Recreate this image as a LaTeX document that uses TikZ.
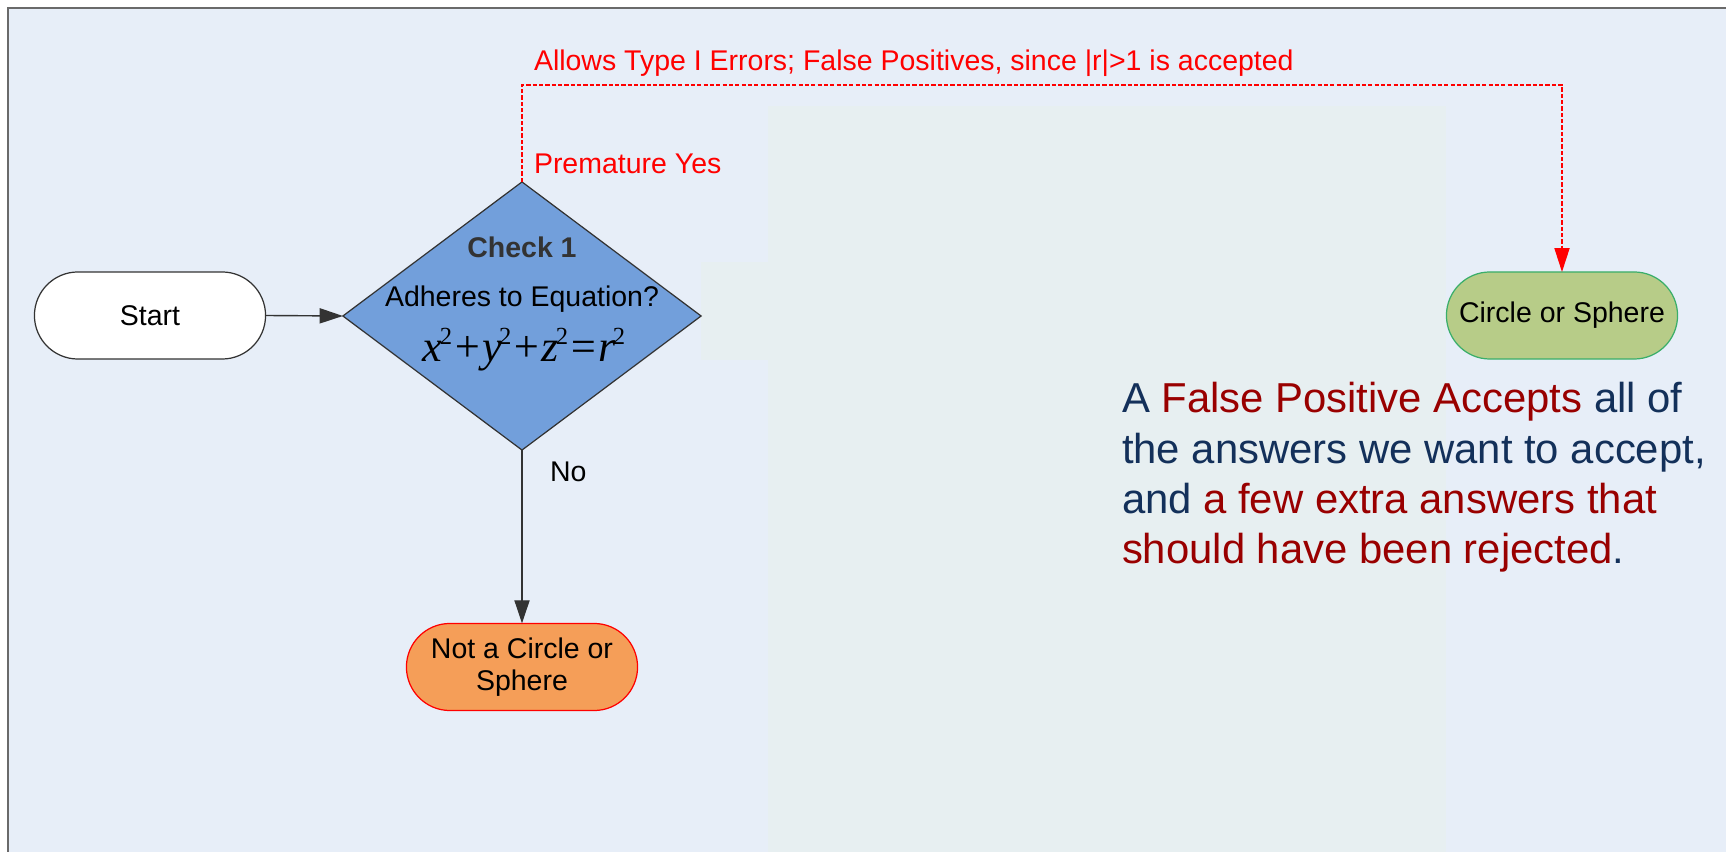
\documentclass[tikz,border=0pt]{standalone}
\usepackage{fontspec}
\setmainfont{Liberation Sans}
\newfontfamily\eqfont{Liberation Serif}
\usetikzlibrary{shapes.geometric,arrows.meta}

\definecolor{pagebg}{HTML}{E7EEF8}
\definecolor{panelbg}{HTML}{E7EFF1}
\definecolor{frameline}{HTML}{6A6A6A}
\definecolor{linegray}{HTML}{333333}
\definecolor{decblue}{HTML}{729FDB}
\definecolor{okgreen}{HTML}{B7CC88}
\definecolor{okedge}{HTML}{3AAE6A}
\definecolor{nofill}{HTML}{F59E58}
\definecolor{navytext}{HTML}{13305A}
\definecolor{redtext}{HTML}{990000}
\definecolor{checkgray}{HTML}{333333}

% raised upright exponent 2 for the sphere equation
\newcommand\eqtwo{\kern-0.06em\raisebox{4.75pt}{\fontsize{7pt}{7pt}\selectfont\upshape 2}}

\begin{document}
\begin{tikzpicture}[x=0.01cm,y=-0.01cm,
  every node/.style={inner sep=0pt,outer sep=0pt},
  labelfont/.style={font=\fontsize{8.1pt}{9.3pt}\selectfont},
  parafont/.style={font=\fontsize{11.9pt}{14pt}\selectfont,text=navytext,anchor=base west},
  terminal/.style={labelfont,draw=linegray,line width=0.35pt,rounded corners=0.435cm,
    minimum width=2.31cm,minimum height=0.87cm,align=center},
  decision/.style={diamond,draw=linegray,line width=0.35pt,fill=decblue,
    minimum width=3.58cm,minimum height=2.68cm},
  flow/.style={draw=linegray,line width=0.4pt,-{Triangle[length=6.6pt,width=4.3pt]}},
  falsepath/.style={draw=red,line width=0.4pt,dash pattern=on 1.2pt off 0.6pt,
    -{Triangle[length=6.8pt,width=4.3pt,fill=red]}},
]
\useasboundingbox (0,0) rectangle (1726,852);

% page and frame
\fill[white] (0,0) rectangle (1726,852);
\fill[pagebg] (8,8) rectangle (1726,852);
\fill[panelbg] (768,106) rectangle (1446,852);
\fill[panelbg] (701,262) rectangle (768,360);
\draw[frameline,line width=0.5pt] (8,852) -- (8,8) -- (1726,8);

% flowchart shapes
\node[terminal,fill=white] (start) at (150,315.5) {Start};
\node[decision] (chk) at (522,316) {};
\node[terminal,fill=nofill,draw=red] (notc) at (522,667) {Not a Circle or\\Sphere};
\node[terminal,fill=okgreen,draw=okedge] (yes) at (1562,315.5) {Circle or Sphere};

% text inside the decision
\node[labelfont,font=\fontsize{8.1pt}{9.3pt}\selectfont\bfseries,text=checkgray,anchor=base] (chktitle) at (522,257.3) {Check 1};
\node[labelfont,anchor=base] (chkq) at (522,306.7) {Adheres to Equation?};
\node[anchor=base,font=\eqfont\fontsize{12.6pt}{12.6pt}\selectfont\itshape] (eqn) at (524,361.7)
  {x\eqtwo+y\eqtwo+z\eqtwo=r\eqtwo};

% connectors
\coordinate (bendL) at (522,85);
\coordinate (bendR) at (1562,85);
\draw[flow] (start.east) -- (chk.west);
\draw[flow] (chk.south) -- (notc.north);
\draw[falsepath] (chk.north) -- (bendL) -- (bendR) -- (yes.north);

% connector labels
\node[labelfont,text=red,anchor=base west] (errlabel) at (534,70.7)
  {Allows Type I Errors; False Positives, since |r|>1 is accepted};
\node[labelfont,text=red,anchor=base west] (prelabel) at (534,173.5) {Premature Yes};
\node[labelfont,anchor=base west] (nolabel) at (550,482) {No};

% explanation
\node[parafont] (para1) at (1122,412.7) {A \textcolor{redtext}{False Positive Accepts} all of};
\node[parafont] (para2) at (1122,463.1) {the answers we want to accept,};
\node[parafont] (para3) at (1122,513.5) {and \textcolor{redtext}{a few extra answers that}};
\node[parafont] (para4) at (1122,564) {\textcolor{redtext}{should have been rejected}.};
\end{tikzpicture}
\end{document}
